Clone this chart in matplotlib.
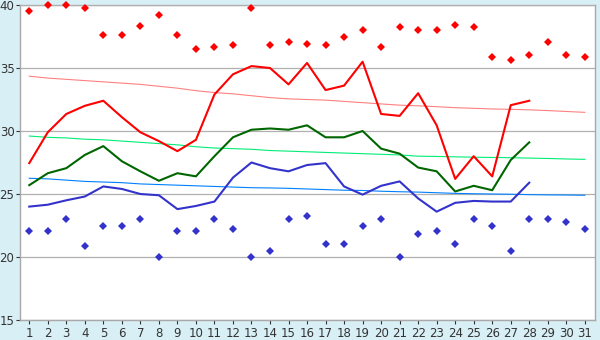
import numpy as np
import matplotlib
matplotlib.use('Agg')
import matplotlib.pyplot as plt

days = list(range(1, 32))

# observed daily values (days 1-28)
t_max = [27.45, 29.9, 31.35, 32.0, 32.4, 31.1, 29.9, 29.2, 28.4, 29.3,
         32.9, 34.5, 35.15, 35.0, 33.7, 35.4, 33.25, 33.6, 35.5, 31.35,
         31.2, 33.0, 30.45, 26.2, 28.0, 26.4, 32.05, 32.4]
t_mean = [25.7, 26.65, 27.05, 28.1, 28.8, 27.6, 26.8, 26.05, 26.65, 26.4,
          28.0, 29.5, 30.1, 30.2, 30.1, 30.45, 29.5, 29.5, 30.0, 28.6,
          28.2, 27.1, 26.8, 25.2, 25.65, 25.3, 27.7, 29.1]
t_min = [24.0, 24.15, 24.5, 24.8, 25.6, 25.4, 25.0, 24.9, 23.8, 24.05,
         24.4, 26.3, 27.5, 27.05, 26.8, 27.3, 27.45, 25.6, 24.95, 25.65,
         26.0, 24.65, 23.6, 24.3, 24.45, 24.4, 24.4, 25.9]

# normals (days 1-31)
norm_max = [34.35, 34.2, 34.1, 34.0, 33.9, 33.8, 33.7, 33.55, 33.4, 33.2,
            33.05, 32.95, 32.8, 32.65, 32.55, 32.5, 32.45, 32.35, 32.25, 32.15,
            32.05, 32.0, 31.93, 31.85, 31.8, 31.75, 31.72, 31.68, 31.62, 31.55, 31.48]
norm_mean = [29.6, 29.5, 29.45, 29.35, 29.3, 29.2, 29.1, 29.0, 28.9, 28.75,
             28.65, 28.6, 28.55, 28.45, 28.4, 28.35, 28.3, 28.25, 28.2, 28.15,
             28.1, 28.0, 27.98, 27.95, 27.92, 27.9, 27.88, 27.85, 27.82, 27.78, 27.75]
norm_min = [26.25, 26.2, 26.1, 26.0, 25.95, 25.9, 25.8, 25.75, 25.7, 25.65,
            25.6, 25.55, 25.5, 25.48, 25.45, 25.4, 25.35, 25.3, 25.28, 25.22,
            25.18, 25.15, 25.1, 25.05, 25.02, 25.0, 24.98, 24.95, 24.93, 24.92, 24.9]

# records (days 1-31)
rec_high = [39.5, 40.0, 40.0, 39.8, 37.6, 37.6, 38.3, 39.2, 37.6, 36.5,
            36.65, 36.8, 39.8, 36.8, 37.05, 36.9, 36.8, 37.45, 38.0, 36.65,
            38.25, 38.0, 38.0, 38.4, 38.25, 35.85, 35.6, 36.0, 37.05, 36.0, 35.85]
rec_low = [22.05, 22.05, 23.0, 20.85, 22.5, 22.5, 23.0, 20.0, 22.05, 22.1,
           23.0, 22.2, 20.0, 20.45, 23.0, 23.25, 21.0, 21.0, 22.5, 23.0,
           20.0, 21.8, 22.05, 21.0, 23.0, 22.45, 20.45, 23.0, 23.0, 22.75, 22.2]

bg = '#d9eff6'
fig = plt.figure(figsize=(6, 3.4), dpi=100, facecolor=bg)
ax = fig.add_axes([20 / 600, 20 / 340, 575 / 600, 315 / 340])
ax.set_facecolor('white')

obs_days = days[:len(t_max)]

ax.plot(days, norm_max, color='#ff8080', lw=0.8, zorder=2)
ax.plot(days, norm_mean, color='#00ee77', lw=0.8, zorder=2)
ax.plot(days, norm_min, color='#0080ff', lw=0.8, zorder=2)

ax.plot(obs_days, t_max, color='#ff0000', lw=1.5, zorder=3)
ax.plot(obs_days, t_mean, color='#006600', lw=1.5, zorder=3)
ax.plot(obs_days, t_min, color='#3333cc', lw=1.5, zorder=3)

ax.plot(days, rec_high, 'D', color='#ff0000', ms=3.8, mew=0, zorder=4, clip_on=False)
ax.plot(days, rec_low, 'D', color='#3333cc', ms=3.8, mew=0, zorder=4)

ax.set_xlim(0.5, 31.55)
ax.set_ylim(15, 40)
ax.set_xticks(days)
ax.set_yticks([15, 20, 25, 30, 35, 40])
ax.yaxis.grid(True, color='#b0b0b0', lw=0.9)
ax.set_axisbelow(True)

for side in ['left', 'bottom', 'right', 'top']:
    ax.spines[side].set_color('#a8a8a8')
    ax.spines[side].set_linewidth(1.0)
ax.spines['top'].set_color('#b0b0b0')

ax.tick_params(axis='both', labelsize=8.5, colors='#333333', length=3, width=0.8, pad=2)
ax.tick_params(axis='y', pad=1)

plt.savefig('out.png', dpi=100, facecolor=bg)
